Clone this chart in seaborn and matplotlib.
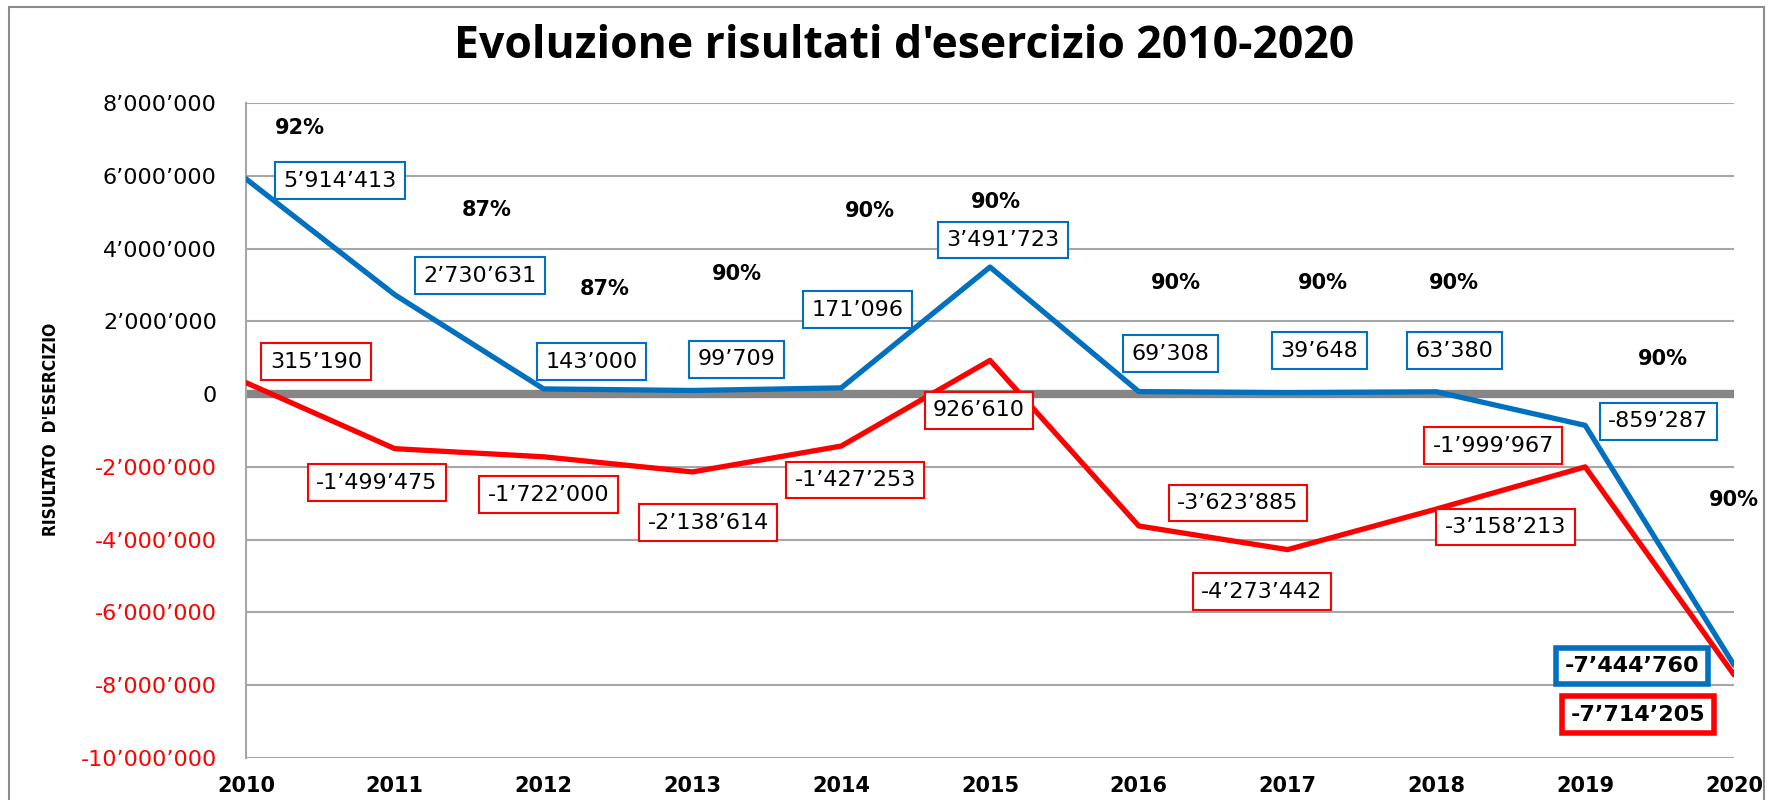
#!/usr/bin/env python3
# -*- coding: utf-8 -*-

# Bibliotecas
import pandas as pd
import seaborn as sns
import matplotlib.pyplot as plt
from matplotlib.patches import Rectangle

# Dati del grafico
v_anni = [2010, 2011, 2012, 2013, 2014, 2015, 2016, 2017, 2018, 2019, 2020]
v_blu = [5914413, 2730631, 143000, 99709, 171096, 3491723, 69308, 39648, 63380, -859287, -7444760]
v_rosso = [315190, -1499475, -1722000, -2138614, -1427253, 926610, -3623885, -4273442, -3158213, -1999967, -7714205]
v_percentuali = ['92%', '87%', '87%', '90%', '90%', '90%', '90%', '90%', '90%', '90%', '90%']
v_yticks = [8000000, 6000000, 4000000, 2000000, 0, -2000000, -4000000, -6000000, -8000000, -10000000]

# Posizione delle etichette (layout, in pixel rispetto al punto)
v_off_blu = [(94, -2), (85, 19), (48, 27), (44, 31), (16, 78), (13, 27),
             (32, 38), (32, 42), (18, 41), (73, 4), (-102, -1)]
v_off_rosso = [(70, 21), (-18, -34), (5, -38), (16, -51), (14, -34), (-11, -50),
               (99, 23), (-26, -42), (69, -18), (-92, 21), (-96, -40)]
# Posizione delle percentuali (coordinate dati)
v_pos_perc = [(2010.36, 7.32e6), (2011.62, 5.05e6), (2012.41, 2.88e6), (2013.30, 3.29e6),
              (2014.19, 5.02e6), (2015.04, 5.27e6), (2016.25, 3.04e6), (2017.24, 3.04e6),
              (2018.12, 3.04e6), (2019.52, 0.96e6), (2020.0, -2.91e6)]

c_blu = '#0070C0'
c_rosso = '#FF0000'
c_griglia = '#A6A6A6'


def fmt(v):
    return f"{v:,.0f}".replace(',', '\u2019')


df = pd.DataFrame({'anno': v_anni, 'blu': v_blu, 'rosso': v_rosso})

sns.set_style('white')
plt.rcParams['font.family'] = ['DejaVu Sans']
plt.rcParams['text.color'] = 'black'
plt.rcParams['xtick.color'] = 'black'
plt.rcParams['ytick.color'] = 'black'

fig = plt.figure(figsize=(17.71, 8), dpi=100)
fig.patches.append(Rectangle((9 / 1771, -0.05), (1764 - 9) / 1771, 1.05 - 7 / 800,
                             transform=fig.transFigure, fill=False,
                             edgecolor='#8C8C8C', linewidth=1.5))
ax = fig.add_axes([246 / 1771, 0.0525, (1734 - 246) / 1771, 0.81875])

# Griglia
for t in v_yticks:
    if t == 0:
        ax.axhline(0, color='#868686', linewidth=6, zorder=1)
    else:
        ax.axhline(t, color=c_griglia, linewidth=1.5, zorder=0)

sns.lineplot(data=df, x='anno', y='blu', color=c_blu, linewidth=3.8, ax=ax, zorder=3)
sns.lineplot(data=df, x='anno', y='rosso', color=c_rosso, linewidth=3.8, ax=ax, zorder=3)

ax.set_xlim(2010, 2020)
ax.set_ylim(-10000000, 8000000)
ax.set_xticks(v_anni)
ax.set_xticklabels([str(a) for a in v_anni], fontsize=15, fontweight='bold')
ax.set_yticks(v_yticks)
ax.set_yticklabels([fmt(t) for t in v_yticks], fontsize=16)
for lab, t in zip(ax.get_yticklabels(), v_yticks):
    if t < 0:
        lab.set_color(c_rosso)
ax.tick_params(axis='x', length=0, pad=13)
ax.tick_params(axis='y', length=0, pad=21)
ax.set_xlabel('')
ax.set_ylabel('')
for s in ['top', 'right', 'bottom']:
    ax.spines[s].set_visible(False)
ax.spines['left'].set_color(c_griglia)
ax.spines['left'].set_linewidth(1.5)


# Etichette dei valori
def etichetta(x, y, off, colore, ultimo):
    ax.annotate(fmt(y), xy=(x, y), xytext=off, textcoords='offset pixels',
                ha='center', va='center', fontsize=16,
                fontweight='bold' if ultimo else 'normal', color='black',
                bbox=dict(boxstyle='square,pad=0.38', fc='white', ec=colore,
                          lw=4 if ultimo else 1.5),
                zorder=5, annotation_clip=False)


for i, (a, v) in enumerate(zip(v_anni, v_blu)):
    etichetta(a, v, v_off_blu[i], c_blu, i == len(v_anni) - 1)
for i, (a, v) in enumerate(zip(v_anni, v_rosso)):
    etichetta(a, v, v_off_rosso[i], c_rosso, i == len(v_anni) - 1)

for p, (px, py) in zip(v_percentuali, v_pos_perc):
    ax.text(px, py, p, ha='center', va='center', fontsize=15, fontweight='bold',
            color='black', clip_on=False, zorder=6)

fig.text(904 / 1771, 1 - 47 / 800, "Evoluzione risultati d'esercizio 2010-2020",
         ha='center', va='center', fontsize=32, fontweight='bold', color='black',
         family=['Open Sans', 'DejaVu Sans'])
fig.text(51 / 1771, 1 - 429 / 800, "RISULTATO  D'ESERCIZIO", rotation=90,
         ha='center', va='center', fontsize=12.5, fontweight='bold', color='black',
         fontstretch='condensed', family=['DejaVu Sans'])

fig.savefig('out.png', dpi=100)
